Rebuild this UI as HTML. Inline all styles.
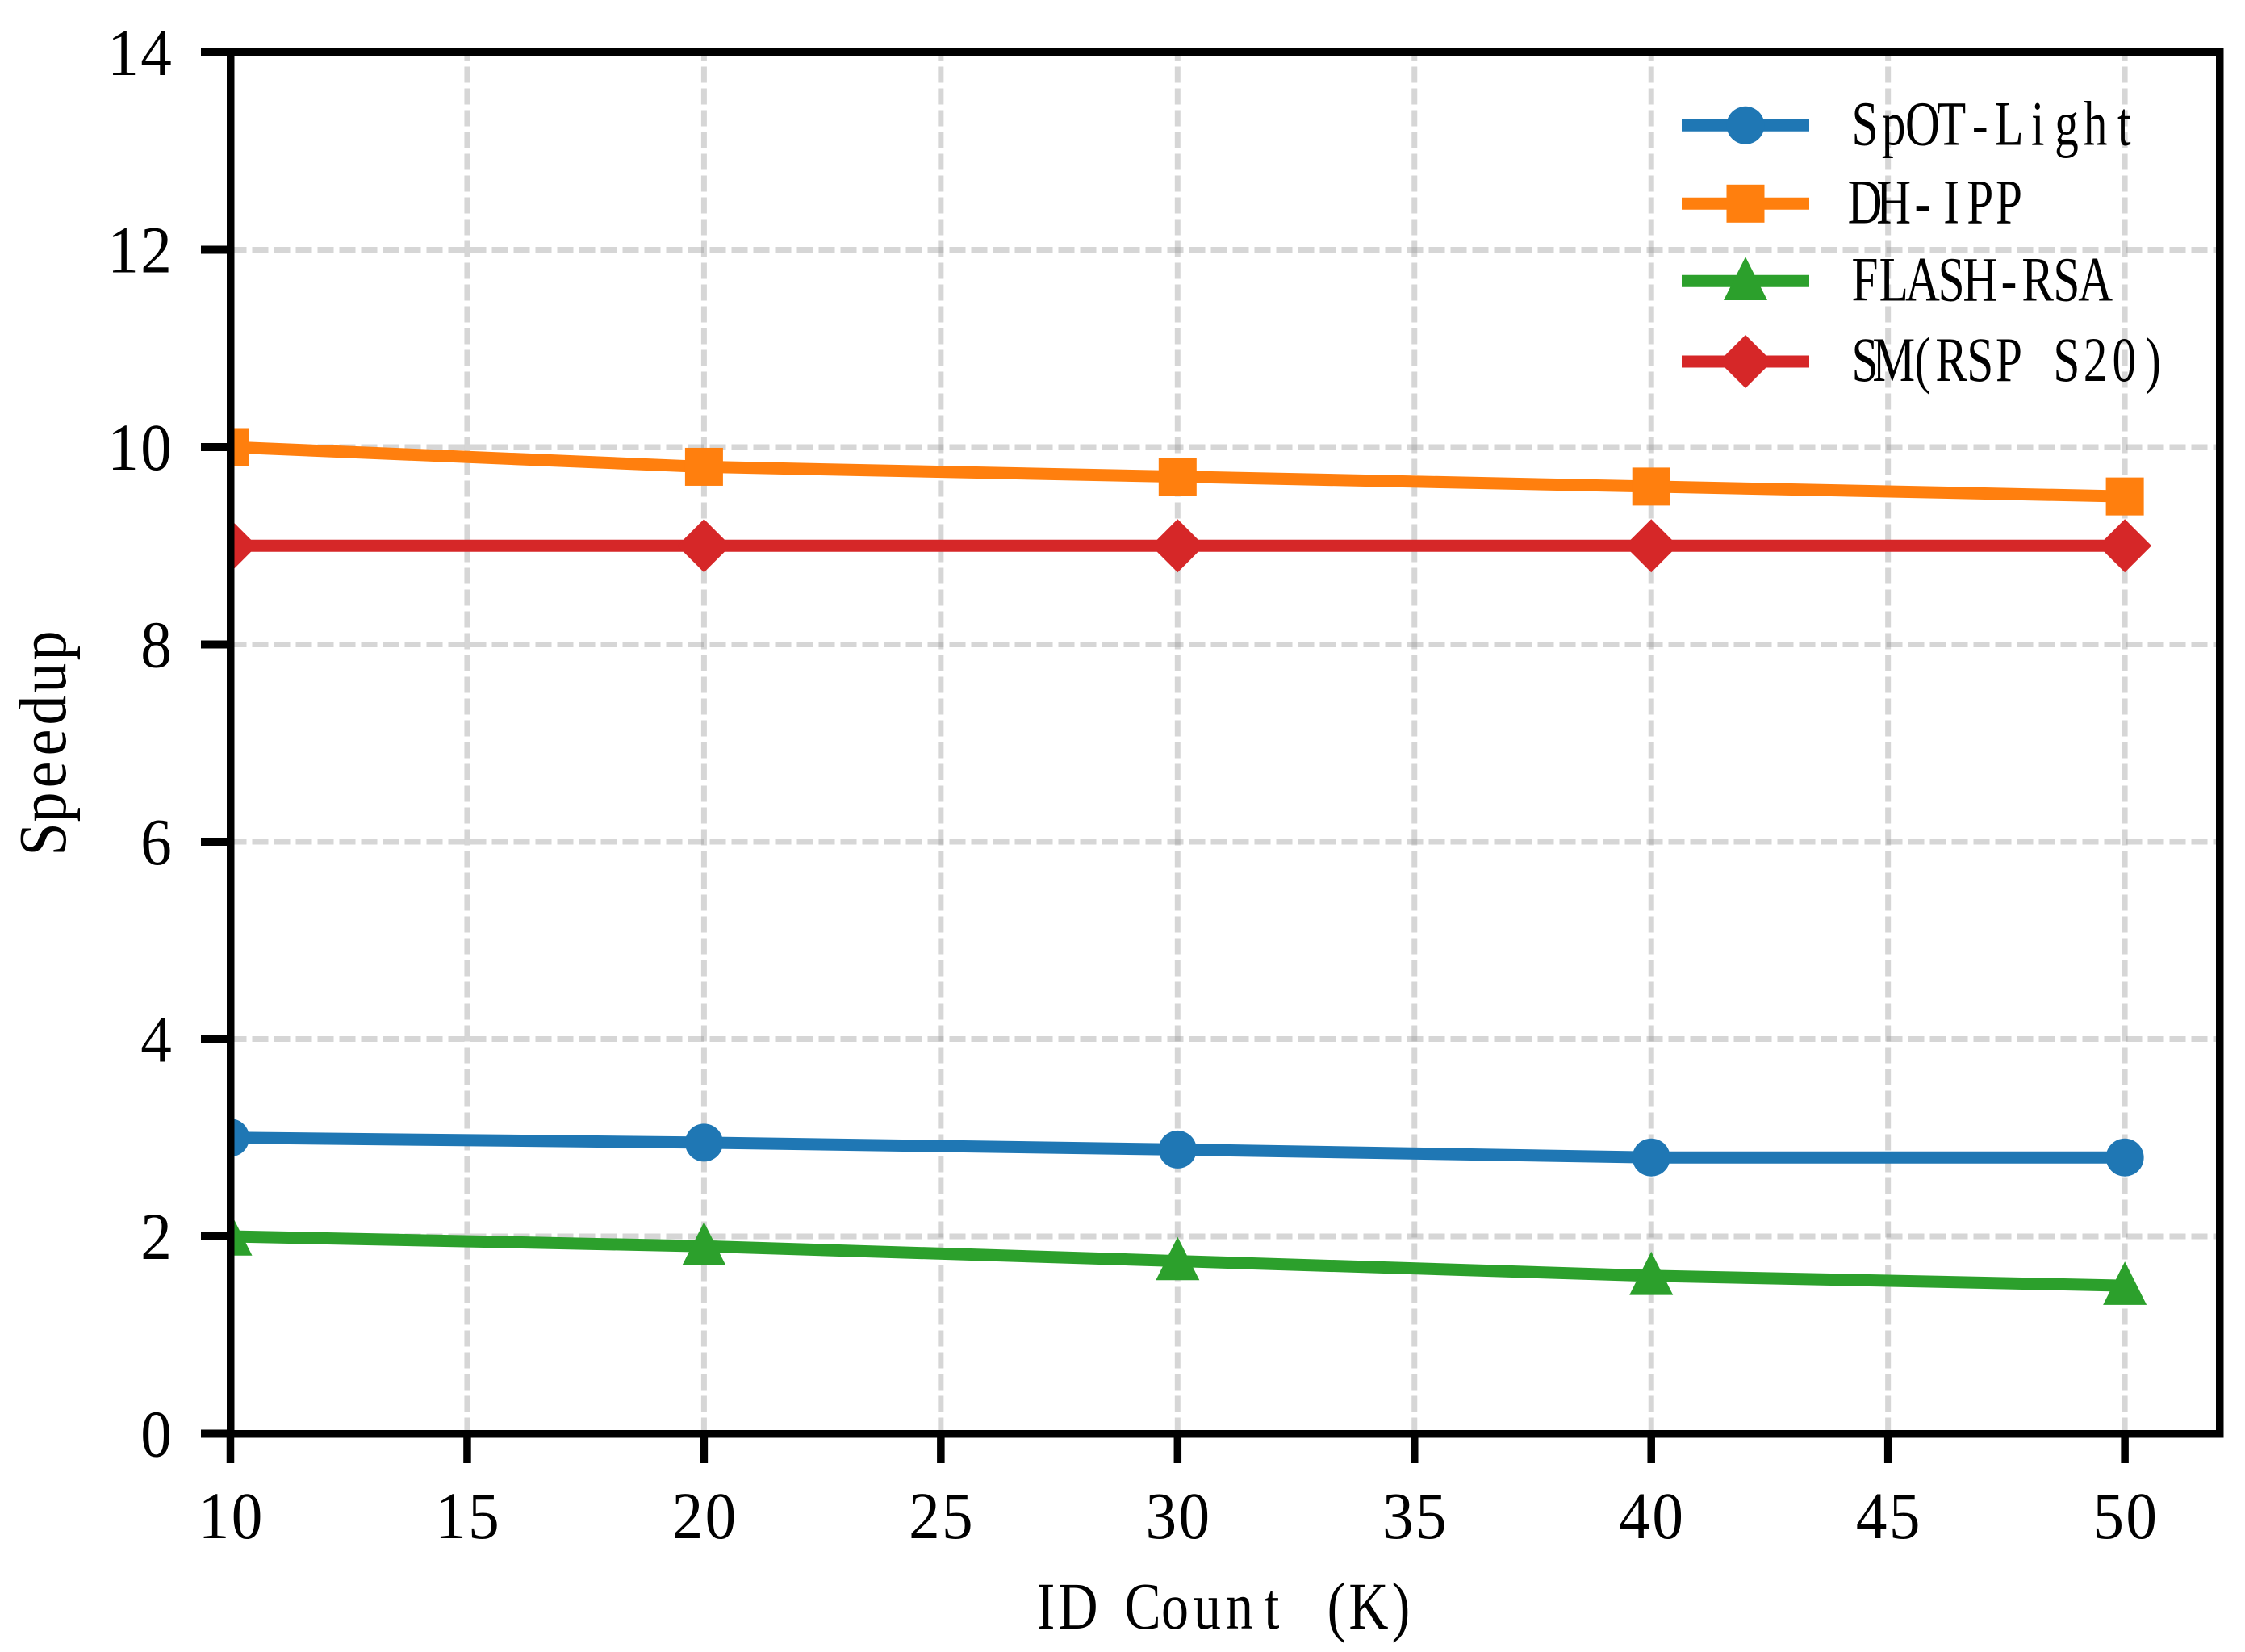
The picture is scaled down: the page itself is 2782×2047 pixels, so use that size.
<!DOCTYPE html>
<html lang="en">
<head>
<meta charset="utf-8">
<title>Speedup vs ID Count</title>
<style>
html,body{margin:0;padding:0;background:#fff;}
svg{display:block;}
text{font-family:"Liberation Serif","Noto Serif CJK SC",serif;fill:#000;white-space:pre;}
</style>
</head>
<body>
<svg id="chart" xmlns="http://www.w3.org/2000/svg" width="2782" height="2047" viewBox="0 0 2782 2047">
  <rect x="0" y="0" width="2782" height="2047" fill="#ffffff"/>
  <defs>
    <clipPath id="plot-clip"><rect x="285.5" y="65" width="2465" height="1711.5"/></clipPath>
  </defs>
  <g id="grid"></g>
  <g id="series" clip-path="url(#plot-clip)"></g>
  <g id="legend"></g>
  <g id="axes"></g>
</svg>
<script>
const categories = [10, 20, 30, 40, 50];
const spotLight = [3.0, 2.95, 2.88, 2.8, 2.8];
const dhIpp = [10, 9.8, 9.7, 9.6, 9.5];
const flashRsa = [2, 1.9, 1.75, 1.6, 1.5];
const smRsp = [9, 9, 9, 9, 9];
const xTickValues = [10, 15, 20, 25, 30, 35, 40, 45, 50];
const yTickValues = [0, 2, 4, 6, 8, 10, 12, 14];
const seriesNames = ['SpOT-Light', 'DH-IPP', 'FLASH-RSA', 'SM(RSP S20)'];
const seriesValues = [spotLight, dhIpp, flashRsa, smRsp];
const seriesColors = ['#1f77b4', '#ff7f0e', '#2ca02c', '#d62728'];
const seriesMarkers = ['circle', 'square', 'triangle', 'diamond'];
const xAxisTitle = 'ID Count (K)';
const yAxisTitle = 'Speedup';

const NS = 'http://www.w3.org/2000/svg';
const plot = {left: 285.5, right: 2750.5, top: 65, bottom: 1776.5};
const xDomain = [10, 52];
const yDomain = [0, 14];
function xScale(v) { return plot.left + (v - xDomain[0]) * (plot.right - plot.left) / (xDomain[1] - xDomain[0]); }
function yScale(v) { return plot.bottom - (v - yDomain[0]) * (plot.bottom - plot.top) / (yDomain[1] - yDomain[0]); }
function make(tag, attrs, parent) {
  const el = document.createElementNS(NS, tag);
  for (const k in attrs) el.setAttribute(k, attrs[k]);
  parent.appendChild(el);
  return el;
}
/* monospaced text: each character is centred in its own cell */
function monoText(str, cx0, y, pitch, size, sx, parent, rotate) {
  const xs = [];
  for (let i = 0; i < str.length; i++) xs.push(((i * pitch) / sx).toFixed(2));
  const tf = 'translate(' + cx0 + ',' + y + ')' + (rotate ? ' rotate(' + rotate + ')' : '') + ' scale(' + sx + ',1)';
  const t = make('text', {x: xs.join(' '), y: 0, transform: tf, 'text-anchor': 'middle', 'font-size': size}, parent);
  t.textContent = str;
  return t;
}
function marker(kind, cx, cy, color, parent) {
  if (kind === 'circle') return make('circle', {cx: cx, cy: cy, r: 23.5, fill: color}, parent);
  if (kind === 'square') return make('rect', {x: cx - 23.5, y: cy - 23.5, width: 47, height: 47, fill: color}, parent);
  if (kind === 'triangle') return make('polygon', {points: (cx) + ',' + (cy - 30) + ' ' + (cx - 27) + ',' + (cy + 23.7) + ' ' + (cx + 27) + ',' + (cy + 23.7), fill: color}, parent);
  return make('polygon', {points: cx + ',' + (cy - 33) + ' ' + (cx + 33) + ',' + cy + ' ' + cx + ',' + (cy + 33) + ' ' + (cx - 33) + ',' + cy, fill: color}, parent);
}

const gridG = document.getElementById('grid');
const seriesG = document.getElementById('series');
const legendG = document.getElementById('legend');
const axesG = document.getElementById('axes');

/* grid */
yTickValues.forEach(function (v) {
  const g = make('line', {x1: plot.left, x2: plot.right, y1: yScale(v), y2: yScale(v), stroke: '#999999', 'stroke-opacity': 0.4, 'stroke-width': 7, 'stroke-dasharray': '20 7'}, gridG);
  
  
});
xTickValues.forEach(function (v) {
  const g = make('line', {x1: xScale(v), x2: xScale(v), y1: plot.bottom, y2: plot.top, stroke: '#999999', 'stroke-opacity': 0.4, 'stroke-width': 7, 'stroke-dasharray': '20 7'}, gridG);
  
  
});

/* series */
seriesValues.forEach(function (vals, s) {
  const g = make('g', {}, seriesG);
  
  
  const pts = vals.map(function (v, i) { return xScale(categories[i]) + ',' + yScale(v); }).join(' ');
  const line = make('polyline', {points: pts, fill: 'none', stroke: seriesColors[s], 'stroke-width': 15}, g);
  
  
  vals.forEach(function (v, i) {
    const m = marker(seriesMarkers[s], xScale(categories[i]), yScale(v), seriesColors[s], g);
    
    
  });
});

/* legend */
const legendRowY = [155.3, 252.3, 348.3, 448];
seriesNames.forEach(function (name, i) {
  const y = legendRowY[i];
  const e = make('g', {}, legendG);
  
  
  const ln = make('line', {x1: 2084, x2: 2242, y1: y, y2: y, stroke: seriesColors[i], 'stroke-width': 15}, e);
  
  
  const mk = marker(seriesMarkers[i], 2163, y, seriesColors[i], e);
  
  
  const tx = monoText(name, 2311, y + 24, 35.7, 78, 0.76, e);
  
  
});

/* spines */
const spineParts = [
  ['spine-left', 281, 60, 9.5, 1721],
  ['spine-right', 2746, 60, 9.5, 1721],
  ['spine-top', 281, 60, 2474.5, 10],
  ['spine-bottom', 281, 1772, 2474.5, 9.5]
];
spineParts.forEach(function (p) {
  const r = make('rect', {x: p[1], y: p[2], width: p[3], height: p[4], fill: '#000'}, axesG);
  
  
});

/* ticks */
yTickValues.forEach(function (v) {
  const y = yScale(v);
  const t = make('rect', {x: 249, y: y - 5, width: 36, height: 10, fill: '#000'}, axesG);
  
  
  const s = String(v);
  const lb = monoText(s, 193.5 - (s.length - 1) * 41, y + 28, 41, 83, 0.93, axesG);
  
  
});
xTickValues.forEach(function (v) {
  const x = xScale(v);
  const t = make('rect', {x: x - 4.75, y: plot.bottom, width: 9.5, height: 36.5, fill: '#000'}, axesG);
  
  
  const s = String(v);
  const lb = monoText(s, x - (s.length - 1) * 20.5, 1906, 41, 83, 0.93, axesG);
  
  
});

/* axis titles */
const xt = monoText(xAxisTitle, 1516 - (xAxisTitle.length - 1) * 20, 2018, 40, 83, 0.82, axesG);


const yt = monoText(yAxisTitle, 81, 920 + (yAxisTitle.length - 1) * 20, 40, 84, 0.88, axesG, -90);


</script>
</body>
</html>
